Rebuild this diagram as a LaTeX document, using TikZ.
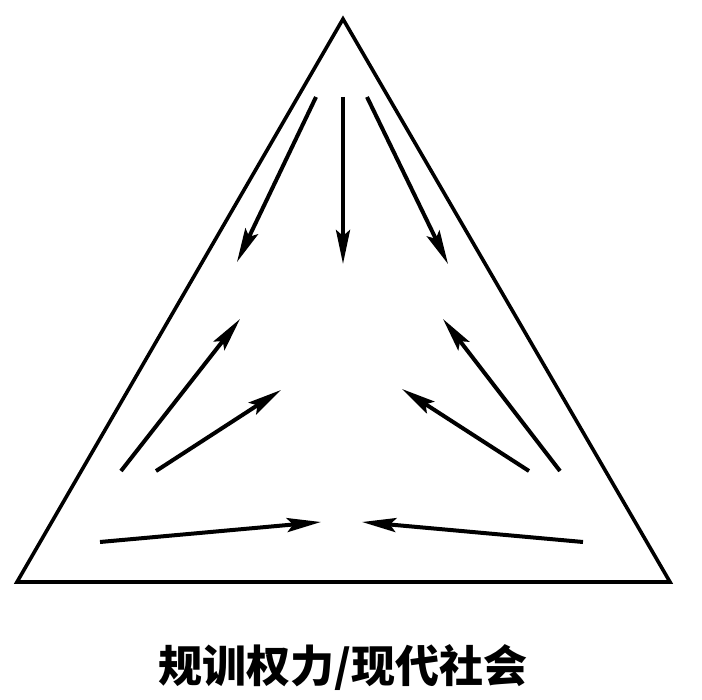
\documentclass[tikz,border=0pt]{standalone}
\usepackage{fontspec}
\newfontfamily\cjk{Noto Sans CJK SC}
\usetikzlibrary{arrows.meta}
\newlength{\du}
\setlength{\du}{1pt}

\begin{document}
\begin{tikzpicture}[
  edge/.style={line width=3.6\du,line join=miter},
  flow/.style={line width=4\du,-{Stealth[length=34pt,width=14pt,inset=6pt]}}
]
\pgftransformxscale{1.000000}
\pgftransformyscale{-1.000000}
\useasboundingbox (0\du,0\du) rectangle (702\du,700\du);
% triangle
\coordinate (top) at (343\du,19\du);
\coordinate (left) at (17\du,582\du);
\coordinate (right) at (670\du,582\du);
\draw[edge] (top)--(left)--(right)--cycle;
% arrows from the apex
\coordinate (t1) at (316\du,97\du);
\coordinate (t1e) at (237\du,262\du);
\coordinate (t2) at (343\du,97\du);
\coordinate (t2e) at (343\du,264\du);
\coordinate (t3) at (367\du,97\du);
\coordinate (t3e) at (448\du,264\du);
\draw[flow] (t1)--(t1e);
\draw[flow] (t2)--(t2e);
\draw[flow] (t3)--(t3e);
% arrows from the left corner
\coordinate (l1) at (121\du,471\du);
\coordinate (l1e) at (240\du,319\du);
\coordinate (l2) at (156\du,471\du);
\coordinate (l2e) at (281\du,390\du);
\coordinate (l3) at (100\du,542\du);
\coordinate (l3e) at (321\du,522\du);
\draw[flow] (l1)--(l1e);
\draw[flow] (l2)--(l2e);
\draw[flow] (l3)--(l3e);
% arrows from the right corner
\coordinate (r1) at (560\du,471\du);
\coordinate (r1e) at (443\du,319\du);
\coordinate (r2) at (529\du,471\du);
\coordinate (r2e) at (402\du,389\du);
\coordinate (r3) at (583\du,542\du);
\coordinate (r3e) at (362\du,522\du);
\draw[flow] (r1)--(r1e);
\draw[flow] (r2)--(r2e);
\draw[flow] (r3)--(r3e);
% caption
\node (caption) at (343\du,668\du){\fontsize{44}{44}\selectfont\cjk\bfseries 规训权力/现代社会};
\end{tikzpicture}
\end{document}
